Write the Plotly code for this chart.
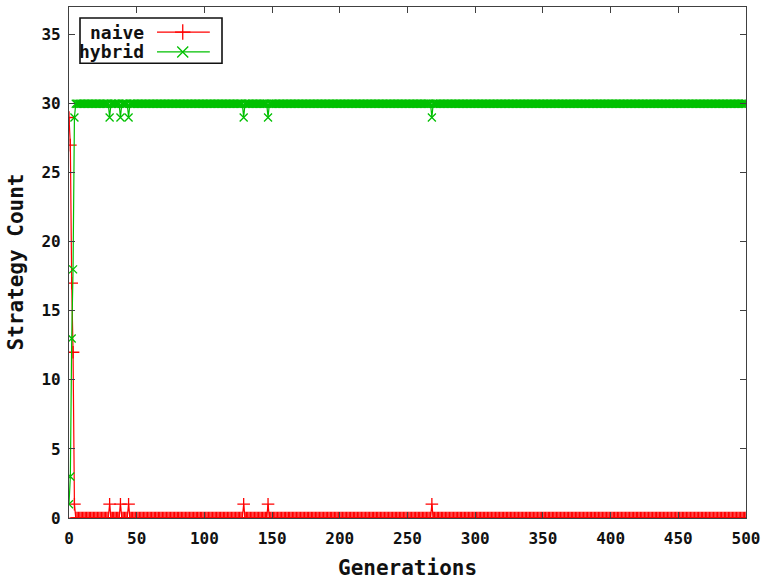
import plotly.graph_objects as go

# Data
generations = list(range(0, 501))
naive_start = [29, 27, 17, 12, 1]
hybrid_start = [1, 3, 13, 18, 29]
spike_gens = [30, 38, 44, 129, 147, 268]

naive = []
hybrid = []
for g in generations:
    if g < len(naive_start):
        naive.append(naive_start[g]); hybrid.append(hybrid_start[g])
    elif g in spike_gens:
        naive.append(1); hybrid.append(29)
    else:
        naive.append(0); hybrid.append(30)

x_ticks = list(range(0, 501, 50))
y_ticks = list(range(0, 36, 5))
x_title = "Generations"
y_title = "Strategy Count"

RED = "#ff0000"
GREEN = "#00c000"
INK = "#111111"
FONT = "DejaVu Sans Mono"

naive_marker = dict(symbol="cross-thin", size=9, line=dict(color=RED, width=1.3))
hybrid_marker = dict(symbol="x-thin", size=8, line=dict(color=GREEN, width=1.3))

fig = go.Figure()
fig.add_trace(go.Scatter(
    x=generations, y=naive, name="naive", mode="lines+markers",
    line=dict(color=RED, width=1.2), marker=naive_marker, showlegend=False,
))
fig.add_trace(go.Scatter(
    x=generations, y=hybrid, name="hybrid", mode="lines+markers",
    line=dict(color=GREEN, width=1.2), marker=hybrid_marker, showlegend=False,
))

# gnuplot-style key (text left, sample right), drawn on a hidden 0..1 overlay axis
key_names = ["naive", "hybrid"]
key_colors = [RED, GREEN]
key_markers = [naive_marker, hybrid_marker]
key_y = [0.951, 0.912]
key_line_x = [0.130, 0.168, 0.208]
for name, col, mk, ky in zip(key_names, key_colors, key_markers, key_y):
    fig.add_trace(go.Scatter(
        x=key_line_x, y=[ky] * 3, mode="lines", line=dict(color=col, width=1.3),
        xaxis="x2", yaxis="y2", showlegend=False, hoverinfo="skip",
    ))
    fig.add_trace(go.Scatter(
        x=[key_line_x[1]], y=[ky], mode="markers", marker=dict(mk, size=11),
        xaxis="x2", yaxis="y2", showlegend=False, hoverinfo="skip",
    ))
    fig.add_annotation(
        x=0.1137, y=ky, xref="paper", yref="paper", xanchor="right", yanchor="middle",
        text=name, showarrow=False,
        font=dict(family=FONT, size=18, color=INK, weight="bold"),
    )
fig.add_shape(type="rect", xref="paper", yref="paper", x0=0.01625, x1=0.226,
              y0=0.890, y1=0.9785, line=dict(color=INK, width=1.6), fillcolor="rgba(0,0,0,0)")

# axis titles
title_font = dict(family=FONT, size=21, color=INK, weight="bold")
fig.add_annotation(x=0.5, y=0, xref="paper", yref="paper", xanchor="center", yanchor="middle",
                   yshift=-50, text=x_title, showarrow=False, font=title_font)
fig.add_annotation(x=0, y=0.5, xref="paper", yref="paper", xanchor="center", yanchor="middle",
                   xshift=-54, textangle=-90, text=y_title, showarrow=False, font=title_font)

axis_common = dict(
    showgrid=False, zeroline=False, showline=True, linecolor="#404040", linewidth=1.2,
    mirror="ticks", ticks="inside", ticklen=6, tickcolor="#404040",
    tickfont=dict(family=FONT, size=16, color=INK, weight="bold"), automargin=False,
)
fig.update_xaxes(range=[0, 500], tickvals=x_ticks, ticklabelstandoff=6, **axis_common)
fig.update_yaxes(range=[0, 37], tickvals=y_ticks, ticklabelstandoff=4, **axis_common)

fig.update_layout(
    width=767, height=580,
    margin=dict(l=69, r=21, t=7, b=62),
    plot_bgcolor="white", paper_bgcolor="white",
    xaxis2=dict(overlaying="x", range=[0, 1], visible=False, fixedrange=True),
    yaxis2=dict(overlaying="y", range=[0, 1], visible=False, fixedrange=True),
)

fig.write_html("out.html")
